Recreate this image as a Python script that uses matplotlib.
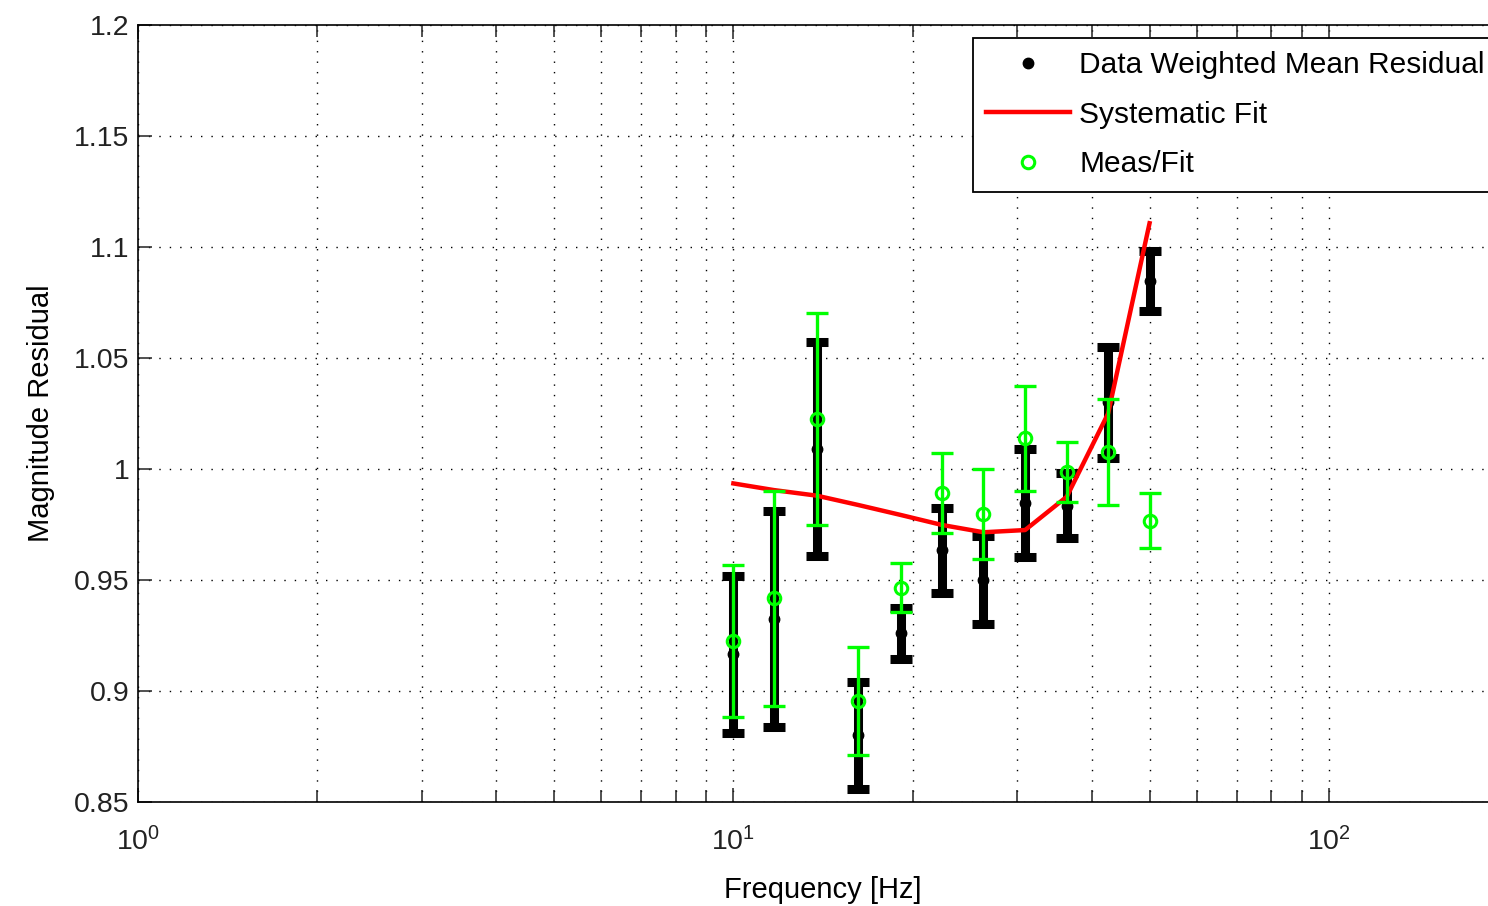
import numpy as np
import matplotlib
matplotlib.use('Agg')
import matplotlib.pyplot as plt
from matplotlib.ticker import LogLocator, FixedLocator, FixedFormatter

plt.rcParams['font.family'] = ['Liberation Sans', 'DejaVu Sans']
plt.rcParams['mathtext.fontset'] = 'custom'
plt.rcParams['mathtext.rm'] = 'Liberation Sans'
plt.rcParams['mathtext.it'] = 'Liberation Sans'
plt.rcParams['mathtext.bf'] = 'Liberation Sans'

# частоты, Гц
freq = [10.0, 11.7, 13.8, 16.2, 19.1, 22.4, 26.3, 30.9, 36.3, 42.6, 50.0]

# средневзвешенный остаток по данным
resid = [0.9165, 0.9326, 1.0092, 0.880, 0.926, 0.9633, 0.950, 0.9847, 0.9835, 1.030, 1.0848]
resid_err = [0.0354, 0.0487, 0.0482, 0.024, 0.0115, 0.019, 0.020, 0.0242, 0.0147, 0.025, 0.0135]

# систематическая подгонка
fit = [0.9935, 0.9905, 0.988, 0.9838, 0.9793, 0.9748, 0.9715, 0.9725, 0.9875, 1.025, 1.1107]

# измерение / подгонка
meas_fit = [0.9225, 0.9417, 1.0225, 0.8956, 0.9466, 0.9893, 0.9797, 1.0138, 0.9988, 1.0077, 0.9768]
meas_fit_err = [0.0341, 0.0485, 0.0477, 0.0244, 0.0109, 0.018, 0.0202, 0.0237, 0.0135, 0.0239, 0.0125]

y_ticks = [0.85, 0.9, 0.95, 1.0, 1.05, 1.1, 1.15, 1.2]
y_tick_labels = ['0.85', '0.9', '0.95', '1', '1.05', '1.1', '1.15', '1.2']

W, H = 1488, 906
fig = plt.figure(figsize=(W / 100, H / 100), dpi=100)
ax = fig.add_axes([138 / W, (H - 802) / H, 1370 / W, 777 / H])

green = '#00ff00'

# данные (чёрные)
ax.errorbar(freq, resid, yerr=resid_err, fmt='none', ecolor='k',
            elinewidth=6.5, capsize=8, capthick=6.5, zorder=3)
ax.plot(freq, resid, '.', color='k', ms=15, zorder=4, label='Data Weighted Mean Residual')

# подгонка
ax.plot(freq, fit, '-', color='red', lw=3.2, zorder=5, label='Systematic Fit')

# измерение/подгонка (зелёные)
ax.errorbar(freq, meas_fit, yerr=meas_fit_err, fmt='none', ecolor=green,
            elinewidth=2.4, capsize=8, capthick=2.4, zorder=6)
ax.plot(freq, meas_fit, 'o', color=green, mfc='none', mew=2.2, ms=9, zorder=7,
        label='Meas/Fit')

ax.set_xscale('log')
ax.set_xlim(1, 200)
ax.set_ylim(0.85, 1.2)

ax.xaxis.set_major_locator(LogLocator(base=10, numticks=10))
ax.xaxis.set_minor_locator(LogLocator(base=10, subs=np.arange(2, 10), numticks=20))
ax.yaxis.set_major_locator(FixedLocator(y_ticks))
ax.yaxis.set_major_formatter(FixedFormatter(y_tick_labels))

ax.grid(True, which='both', axis='x', color='k', linestyle=(0, (1, 6.5)), lw=1.0)
ax.grid(True, which='major', axis='y', color='k', linestyle=(0, (1, 6.5)), lw=1.0)
ax.set_axisbelow(True)

ax.tick_params(which='both', direction='in', top=True, right=True, width=1.1,
               labelsize=20.5, colors='#222222')
ax.tick_params(which='major', length=10)
ax.tick_params(which='minor', length=8.5)
ax.tick_params(axis='x', which='major', pad=18)
ax.tick_params(axis='y', which='major', pad=6)
for s in ax.spines.values():
    s.set_linewidth(1.2)
ax.spines['right'].set_visible(False)

ax.set_xlabel('Frequency [Hz]', fontsize=21, labelpad=14)
ax.set_ylabel('Magnitude Residual', fontsize=21, labelpad=14)

leg = ax.legend(loc='upper left', bbox_to_anchor=(973 / W, 1 - 38 / H),
                bbox_transform=fig.transFigure, borderaxespad=0, fontsize=21.5,
                handlelength=2.8, handletextpad=0.3, labelspacing=0.72,
                borderpad=0.45, fancybox=False, framealpha=1, edgecolor='k')
leg.get_frame().set_linewidth(1.3)

fig.savefig('out.png', dpi=100)
